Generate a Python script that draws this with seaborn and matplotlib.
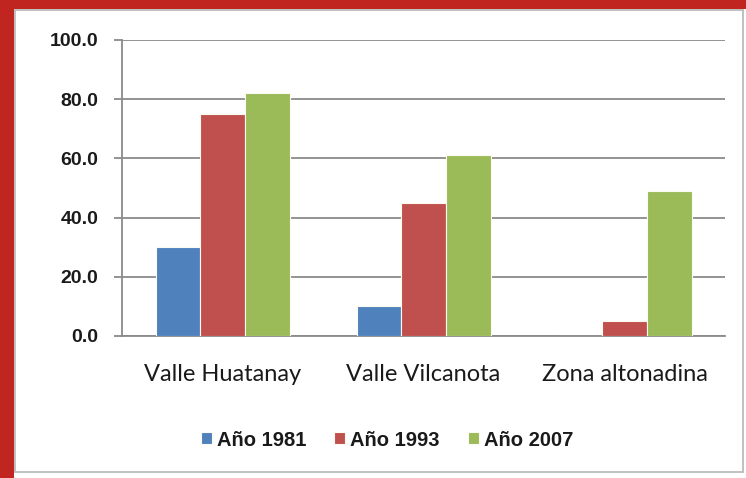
import pandas as pd
import numpy as np
import seaborn as sns
import matplotlib.pyplot as plt
from matplotlib.patches import Rectangle

zonas = ["Valle Huatanay", "Valle Vilcanota", "Zona altonadina"]
anios = ["Año 1981", "Año 1993", "Año 2007"]
v1981 = [30.0, 10.0, 0.0]
v1993 = [75.0, 45.0, 5.0]
v2007 = [82.0, 61.0, 49.0]

df = pd.DataFrame({
    "zona": zonas * 3,
    "anio": [anios[0]] * 3 + [anios[1]] * 3 + [anios[2]] * 3,
    "valor": v1981 + v1993 + v2007,
})

colores = ["#4F81BD", "#C0504D", "#9BBB59"]
gris = "#8a8a8a"

sns.set_style("white")
plt.rcParams["font.family"] = ["Liberation Sans", "DejaVu Sans"]

fig = plt.figure(figsize=(7.46, 4.78), dpi=100)
fig.patch.set_facecolor("white")

# marco rojo y borde gris del panel
fig.patches.append(Rectangle((0, 0), 14 / 746, 1, transform=fig.transFigure,
                             facecolor="#C0251F", edgecolor="none", zorder=-10))
fig.patches.append(Rectangle((0, 1 - 9 / 478), 1, 9 / 478, transform=fig.transFigure,
                             facecolor="#C0251F", edgecolor="none", zorder=-10))
fig.patches.append(Rectangle((15 / 746, 6 / 478), 728 / 746, 462 / 478,
                             transform=fig.transFigure, facecolor="white",
                             edgecolor="#b5b5b5", linewidth=1.2, zorder=-10))

ax = fig.add_axes([122 / 746, 1 - 336 / 478, 603 / 746, 296 / 478])
ax.set_zorder(5)
ax.set_facecolor("none")

sns.barplot(data=df, x="zona", y="valor", hue="anio", order=zonas,
            hue_order=anios, palette=colores, width=2 / 3, saturation=1,
            edgecolor="#fbfbf0", linewidth=0.8, ax=ax, zorder=3)

ax.set_ylim(0, 100)
ax.set_xlim(-0.5, 2.5)
ax.set_yticks(np.arange(0, 101, 20))
ax.set_yticklabels([f"{v:.1f}" for v in np.arange(0, 101, 20)],
                   fontsize=14, fontweight="bold", color="#1a1a1a")
ax.yaxis.grid(True, color=gris, linewidth=1.3, zorder=0)
ax.set_axisbelow(True)

ax.set_xticks(range(3))
ax.set_xticklabels(zonas, fontsize=17, family=["Lato", "DejaVu Sans"],
                   color="#1a1a1a")
ax.set_xticks([-0.5, 0.5, 1.5, 2.5], minor=True)
ax.tick_params(axis="x", which="major", length=0, pad=20)
ax.tick_params(axis="x", which="minor", length=6, color=gris, width=1.3,
               direction="out")
ax.tick_params(axis="y", length=6, color=gris, width=1.3, pad=11,
               direction="out", left=True)

for s in ["top", "right"]:
    ax.spines[s].set_visible(False)
for s in ["left", "bottom"]:
    ax.spines[s].set_color(gris)
    ax.spines[s].set_linewidth(1.3)

ax.set_xlabel("")
ax.set_ylabel("")

handles, labels = ax.get_legend_handles_labels()
ax.legend(handles, labels, loc="center", ncol=3, frameon=False,
          bbox_to_anchor=(387 / 746, 1 - 440 / 478), bbox_transform=fig.transFigure,
          prop={"size": 14.5, "weight": "bold"}, handlelength=0.55,
          handleheight=0.55, handletextpad=0.25, columnspacing=1.4,
          labelcolor="#1a1a1a")

fig.savefig("out.png", dpi=100)
